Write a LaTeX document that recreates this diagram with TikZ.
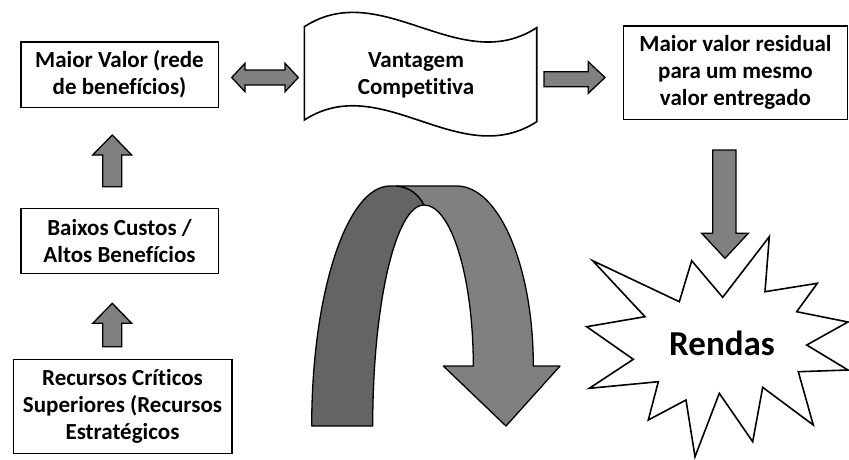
\documentclass[tikz,border=0pt]{standalone}
\usepackage{fontspec}
\setmainfont{Carlito}[Ligatures=NoCommon,RawFeature={-liga}]
\begin{document}
\begin{tikzpicture}[x=1pt,y=-1pt,
  box/.style={draw=black,line width=1.6pt,fill=white,inner sep=0pt,align=center,
    font=\bfseries\fontsize{23}{27}\selectfont},
  txt/.style={inner sep=0pt,align=center,font=\bfseries\fontsize{23}{27}\selectfont},
  blockarrow/.style={draw=black,line width=1.3pt,fill=arrowgray,line join=miter},
]
\definecolor{arrowgray}{RGB}{128,128,128}
\definecolor{darkgray2}{RGB}{100,100,100}
\path[use as bounding box,fill=white] (0,0) rectangle (849,459);

% boxes
\node[box,minimum width=197.6pt,minimum height=65.6pt] (b1) at (119.5,74.5) {Maior Valor (rede\\de benefícios)};
\node[box,minimum width=197.6pt,minimum height=65pt] (b2) at (119.5,240.8) {Baixos Custos /\\Altos Benefícios};
\node[box,minimum width=218.4pt,minimum height=94pt] (b3) at (122.5,406.3) {Recursos Críticos\\Superiores (Recursos\\Estratégicos};
\node[box,minimum width=224pt,minimum height=93.3pt] (b4) at (735.5,72.7) {Maior valor residual\\para um mesmo\\valor entregado};

% wave shape
\draw[line width=1.6pt,fill=white,line join=miter]
  (304.3,26.7) .. controls (381.8,-23.3) and (459.3,77.7) .. (536.7,27.7)
  -- (536.7,121.7) .. controls (459.3,171.7) and (381.8,70) .. (304.3,120) -- cycle;
\node[txt] (vc) at (416,75) {Vantagem\\Competitiva};

% double arrow between b1 and wave
\draw[blockarrow] (231.7,77.5) -- (245,63.3) -- (245,70) -- (285,70) -- (285,63.3) -- (298.3,77.5)
  -- (285,91.7) -- (285,85) -- (245,85) -- (245,91.7) -- cycle;
% right arrow to b4
\draw[blockarrow] (544,71.7) -- (588.3,71.7) -- (588.3,61.7) -- (605,77.5) -- (588.3,93.3)
  -- (588.3,86.7) -- (544,86.7) -- cycle;
% up arrow b2 -> b1
\draw[blockarrow] (102.7,186.7) -- (102.7,155) -- (92.7,155) -- (112.3,135) -- (131.7,155)
  -- (121.7,155) -- (121.7,186.7) -- cycle;
% up arrow b3 -> b2
\draw[blockarrow] (102.7,346.7) -- (102.7,323.3) -- (92.7,323.3) -- (112.3,303.3) -- (131.7,323.3)
  -- (121.7,323.3) -- (121.7,346.7) -- cycle;
% down arrow b4 -> rendas
\draw[blockarrow] (712.7,150) -- (736,150) -- (736,233.3) -- (748.3,233.3) -- (725,258.3)
  -- (701.7,233.3) -- (712.7,233.3) -- cycle;

% U-turn arrow
\draw[line width=1.3pt,fill=darkgray2,line join=round]
  (311.7,426) .. controls (311.7,293.4) and (346.8,186) .. (390,186)
  -- (396.7,186) .. controls (410,187) and (419,195) .. (424,205)
  .. controls (395.7,205) and (372.7,304) .. (372.7,426) -- cycle;
\draw[line width=1.3pt,fill=arrowgray,line join=round]
  (396.7,186) -- (456.7,186) .. controls (499.1,186) and (533.3,266.6) .. (533.3,366)
  -- (560,366) -- (506,426) -- (443.3,366) -- (473.3,366)
  .. controls (473.3,277.1) and (451.2,205) .. (424,205)
  .. controls (419,195) and (410,187) .. (396.7,186) -- cycle;

% starburst
\draw[line width=1.6pt,fill=white,line join=miter]
  (592.7,260.7) -- (679.3,301.7) -- (691.7,260.7) -- (722.7,297.3) -- (769.3,236.7)
  -- (765,291.7) -- (817.3,283.3) -- (796.7,311.7) -- (848,322) -- (806.7,345)
  -- (848,370) -- (798.3,371.7) -- (813.3,425) -- (762.7,387.3) -- (752.7,441.7)
  -- (719.3,393.3) -- (695,456.7) -- (686,400) -- (648.3,420) -- (658.3,381.7)
  -- (589.3,388.3) -- (633.3,359.3) -- (586.7,326.7) -- (645,316.7) -- cycle;
\node[inner sep=0pt,font=\bfseries\fontsize{35}{40}\selectfont] (rendas) at (722,343) {Rendas};
\end{tikzpicture}
\end{document}
